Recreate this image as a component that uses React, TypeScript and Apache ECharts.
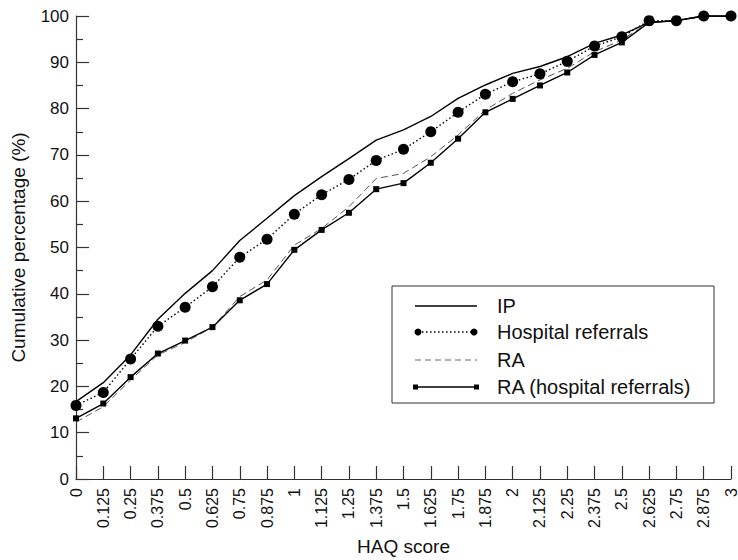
import React, { useEffect, useRef } from "react";
import * as echarts from "echarts";

const haqTicks = [0, 0.125, 0.25, 0.375, 0.5, 0.625, 0.75, 0.875, 1, 1.125, 1.25, 1.375, 1.5, 1.625, 1.75, 1.875, 2, 2.125, 2.25, 2.375, 2.5, 2.625, 2.75, 2.875, 3];
const yTicks = [0, 10, 20, 30, 40, 50, 60, 70, 80, 90, 100];

const seriesNames = ["IP", "Hospital referrals", "RA", "RA (hospital referrals)"];

const ipValues = [16.7, 20.8, 26.8, 34.5, 40.1, 45.0, 51.5, 56.3, 61.2, 65.3, 69.2, 73.2, 75.4, 78.3, 82.2, 85.1, 87.6, 89.1, 91.2, 94.1, 95.9, 98.6, 99.0, 100, 100];
const hospitalValues = [15.9, 18.7, 25.9, 33.0, 37.1, 41.5, 47.9, 51.8, 57.2, 61.4, 64.7, 68.8, 71.2, 75.0, 79.2, 83.1, 85.8, 87.5, 90.2, 93.5, 95.5, 99.0, 99.0, 100, 100];
const raValues = [12.3, 15.6, 21.4, 26.8, 29.5, 32.8, 39.4, 43.0, 50.5, 54.1, 58.8, 64.9, 66.0, 69.6, 74.3, 79.7, 83.3, 86.2, 88.7, 92.3, 94.8, 98.7, 99.0, 100, 100];
const raHospitalValues = [13.1, 16.3, 22.0, 27.1, 29.9, 32.8, 38.6, 42.1, 49.5, 53.8, 57.5, 62.6, 63.9, 68.3, 73.5, 79.2, 82.1, 85.0, 87.8, 91.6, 94.3, 98.6, 99.0, 100, 100];

const FONT = "'Liberation Sans', Arial, Helvetica, sans-serif";

const pairs = (vals: number[]) => vals.map((v, i) => [haqTicks[i], v]);

export default function App() {
  const ref = useRef<HTMLDivElement>(null);
  useEffect(() => {
    document.body.style.margin = "0";
    if (!ref.current) return;
    const chart = echarts.init(ref.current, null, { renderer: "svg" });

    const lx = 392, ly = 286, lw = 322, lh = 117;
    const rows = [306, 332, 360, 387];
    const sx0 = 415, sx1 = 477, tx = 497;
    const legendGraphics: any[] = [
      { type: "rect", shape: { x: lx, y: ly, width: lw, height: lh }, style: { fill: "#fff", stroke: "#333", lineWidth: 1 }, z: 100 },
      { type: "line", shape: { x1: sx0, y1: rows[0], x2: sx1, y2: rows[0] }, style: { stroke: "#000", lineWidth: 1.3 }, z: 101 },
      { type: "line", shape: { x1: sx0 + 3, y1: rows[1], x2: sx1 - 3, y2: rows[1] }, style: { stroke: "#000", lineWidth: 1.3, lineDash: [1.5, 2.5] }, z: 101 },
      { type: "circle", shape: { cx: sx0 + 3, cy: rows[1], r: 3.5 }, style: { fill: "#000" }, z: 102 },
      { type: "circle", shape: { cx: sx1 - 3, cy: rows[1], r: 3.5 }, style: { fill: "#000" }, z: 102 },
      { type: "line", shape: { x1: sx0, y1: rows[2], x2: sx1, y2: rows[2] }, style: { stroke: "#666", lineWidth: 1, lineDash: [6, 4] }, z: 101 },
      { type: "line", shape: { x1: sx0, y1: rows[3], x2: sx1, y2: rows[3] }, style: { stroke: "#000", lineWidth: 1.3 }, z: 101 },
      { type: "rect", shape: { x: sx0 - 2, y: rows[3] - 2.5, width: 5, height: 5 }, style: { fill: "#000" }, z: 102 },
      { type: "rect", shape: { x: sx1 - 3, y: rows[3] - 2.5, width: 5, height: 5 }, style: { fill: "#000" }, z: 102 },
    ];
    seriesNames.forEach((n, i) => {
      legendGraphics.push({
        type: "text",
        x: tx,
        y: rows[i],
        style: { text: n, fill: "#111", font: `20px ${FONT}`, verticalAlign: "middle", align: "left" },
        z: 102,
      });
    });

    chart.setOption({
      animation: false,
      backgroundColor: "#fff",
      grid: { left: 76, right: 7, top: 16, bottom: 81, containLabel: false, outerBoundsMode: "none" },
      xAxis: {
        type: "value",
        min: 0,
        max: 3,
        interval: 0.125,
        name: "HAQ score",
        nameLocation: "middle",
        nameGap: 58,
        nameTextStyle: { fontSize: 19, color: "#111", fontFamily: FONT },
        axisLine: { show: true, onZero: false, lineStyle: { color: "#333", width: 1.2 } },
        axisTick: { show: true, inside: true, length: 13, lineStyle: { color: "#333", width: 1.2 } },
        axisLabel: {
          rotate: 90,
          margin: 9,
          fontSize: 16,
          lineHeight: 13,
          color: "#111",
          fontFamily: FONT,
          showMinLabel: true,
          showMaxLabel: true,
          formatter: (v: number) => String(v),
        },
        splitLine: { show: false },
      },
      yAxis: {
        type: "value",
        min: 0,
        max: 100,
        interval: 10,
        name: "Cumulative percentage (%)",
        nameLocation: "middle",
        nameGap: 48,
        nameTextStyle: { fontSize: 19, color: "#111", fontFamily: FONT },
        axisLine: { show: true, lineStyle: { color: "#333", width: 1.2 } },
        axisTick: { show: true, inside: true, length: 13, lineStyle: { color: "#333", width: 1.2 } },
        minorTick: { show: true, splitNumber: 2, length: 7, lineStyle: { color: "#333", width: 1.2 } },
        axisLabel: {
          margin: 7,
          fontSize: 17,
          color: "#111",
          fontFamily: FONT,
          formatter: (v: number) => (yTicks.includes(v) ? String(v) : ""),
        },
        splitLine: { show: false },
      },
      series: [
        {
          name: seriesNames[0],
          type: "line",
          data: pairs(ipValues),
          symbol: "none",
          lineStyle: { color: "#000", width: 1.4, type: "solid" },
          z: 3,
        },
        {
          name: seriesNames[1],
          type: "line",
          data: pairs(hospitalValues),
          symbol: "circle",
          symbolSize: 11,
          itemStyle: { color: "#000" },
          lineStyle: { color: "#000", width: 1.4, type: [1.5, 2.5] },
          z: 4,
        },
        {
          name: seriesNames[2],
          type: "line",
          data: pairs(raValues),
          symbol: "none",
          lineStyle: { color: "#555", width: 1, type: [7, 4] },
          z: 2,
        },
        {
          name: seriesNames[3],
          type: "line",
          data: pairs(raHospitalValues),
          symbol: "rect",
          symbolSize: 6,
          itemStyle: { color: "#000" },
          lineStyle: { color: "#000", width: 1.4, type: "solid" },
          z: 3,
        },
      ],
      graphic: legendGraphics,
    });
    return () => chart.dispose();
  }, []);
  return <div ref={ref} style={{ width: 738, height: 560 }} />;
}
